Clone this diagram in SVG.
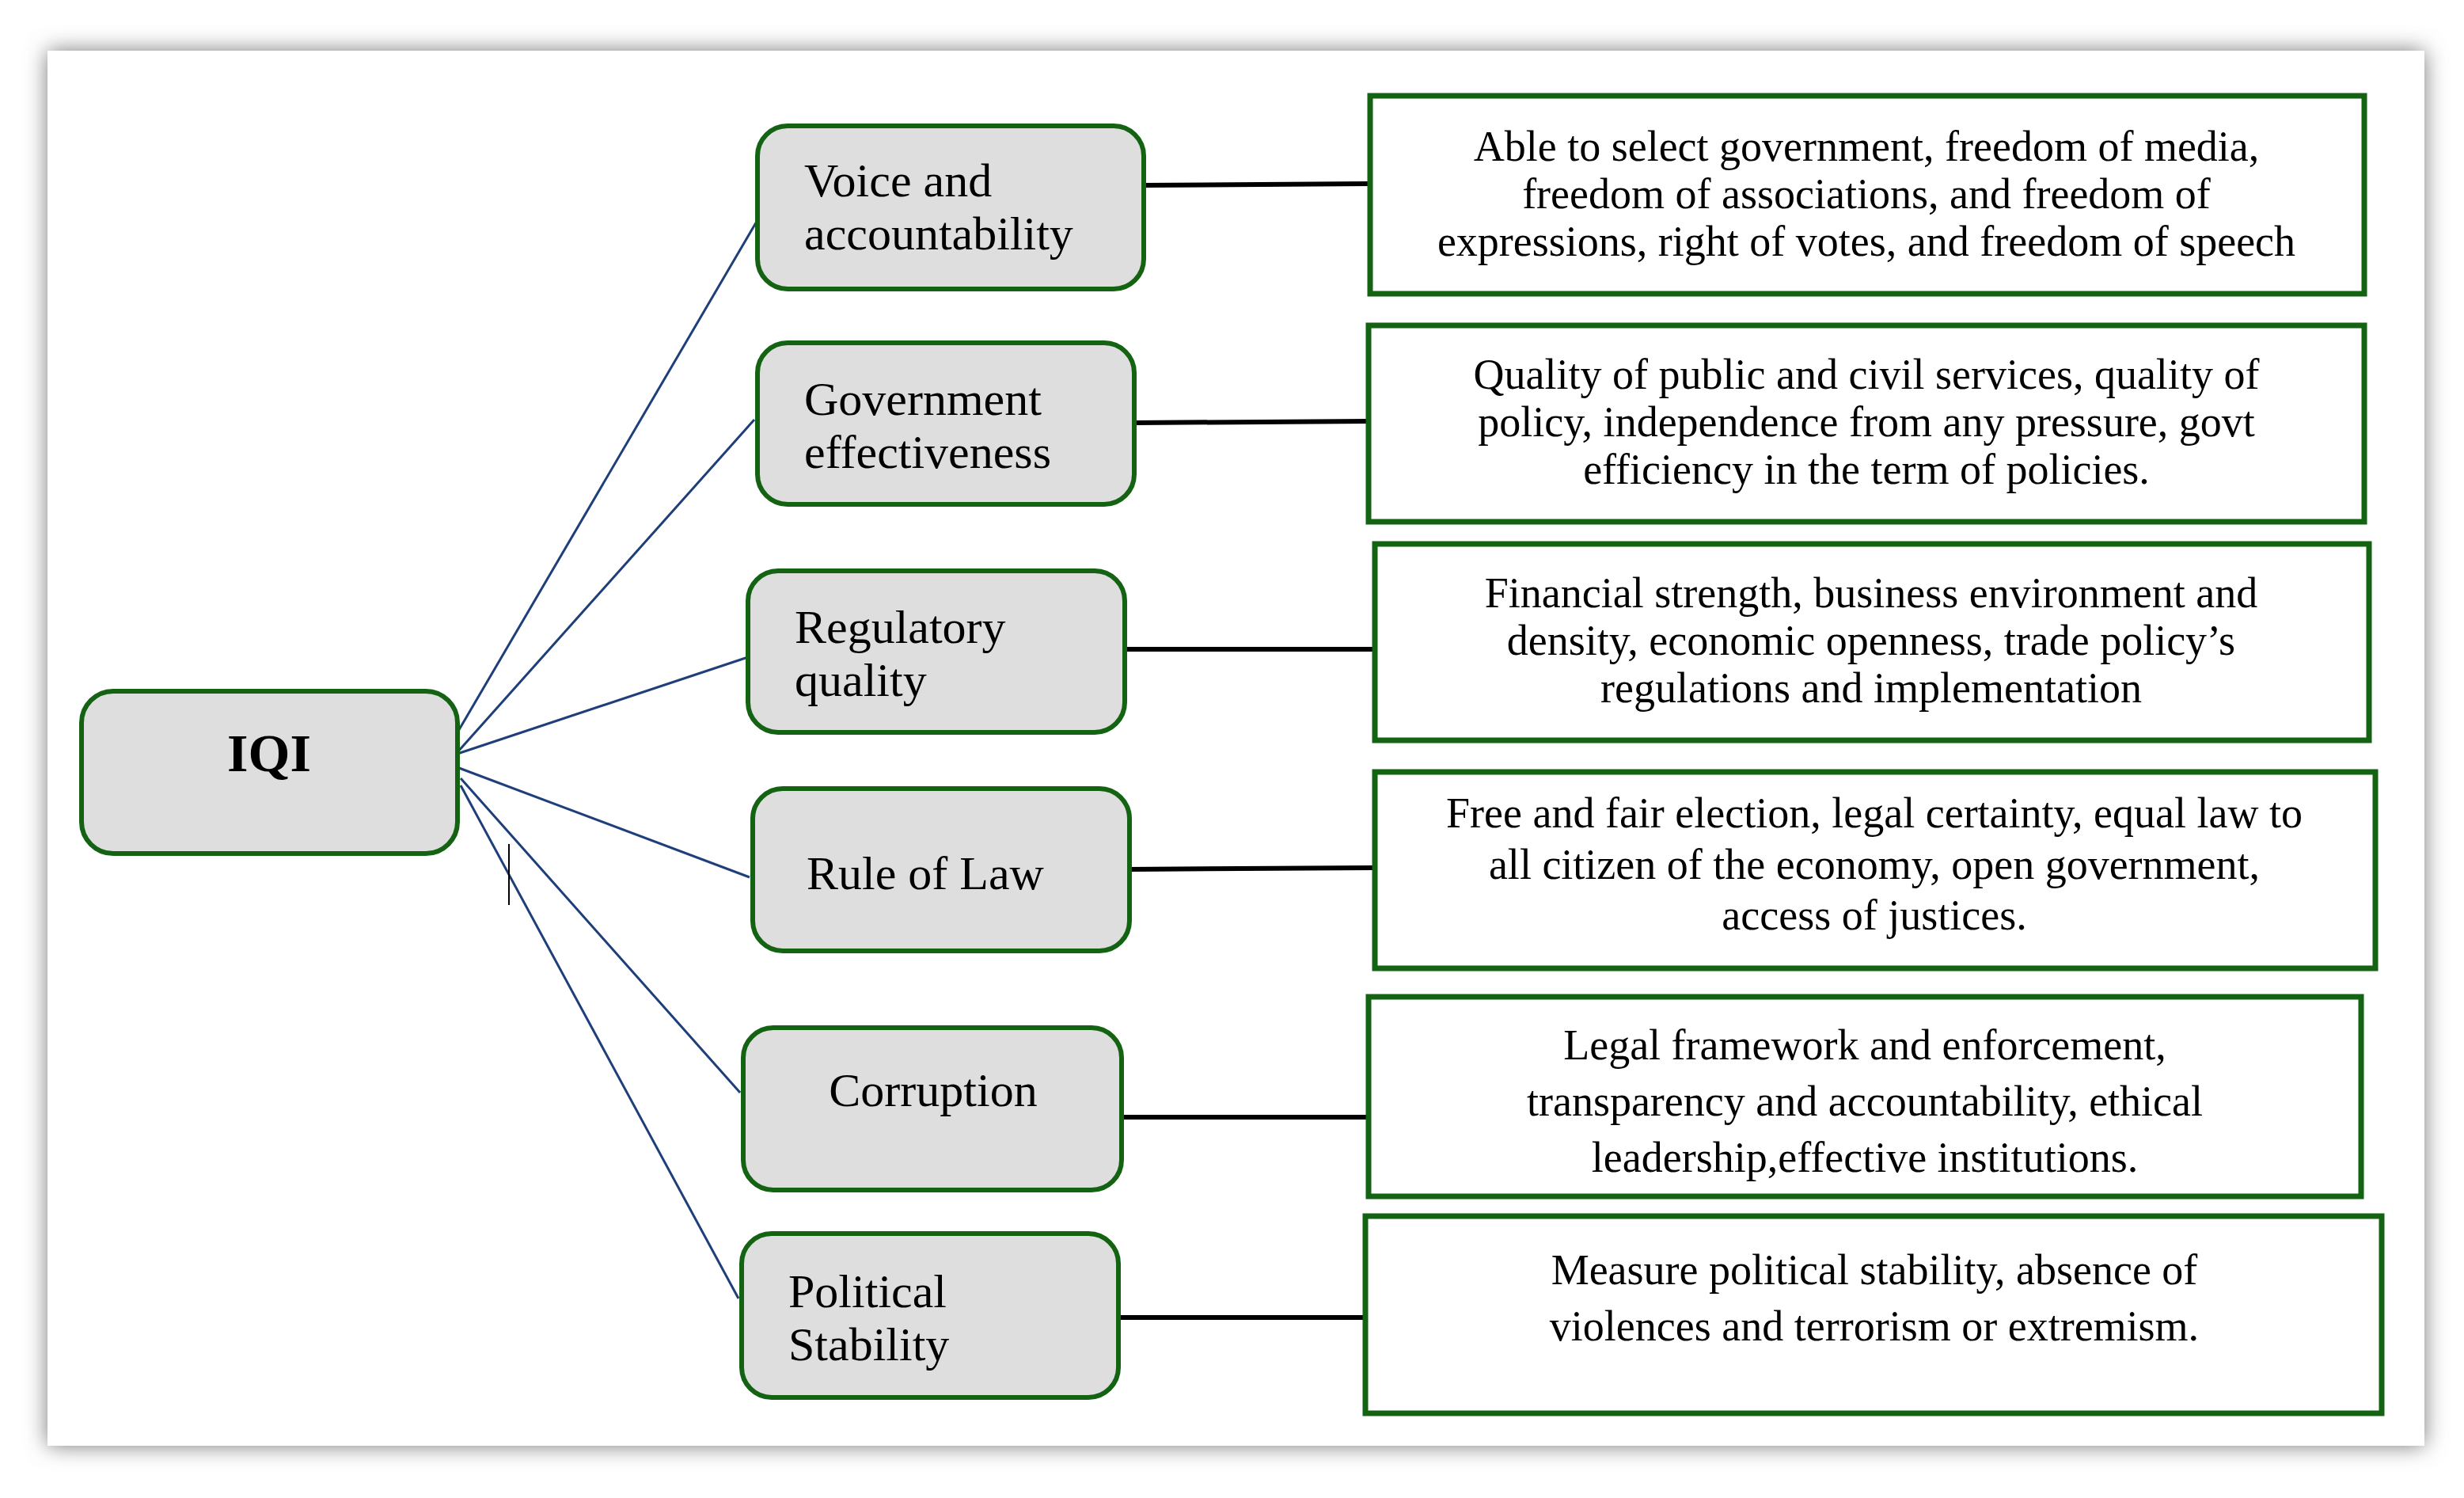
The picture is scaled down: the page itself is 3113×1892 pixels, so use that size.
<svg xmlns="http://www.w3.org/2000/svg" width="3113" height="1892" viewBox="0 0 3113 1892">
<defs>
<filter id="sh" x="-5%" y="-5%" width="110%" height="110%"><feGaussianBlur stdDeviation="14"/></filter>
<style>
.n{fill:#dedede;stroke:#136313;stroke-width:6}
.d{fill:#fff;stroke:#136313;stroke-width:7}
.t{font-family:"Liberation Serif","Times New Roman",serif;fill:#000}
.l{font-size:60px}
.r{font-size:54px;text-anchor:middle}
.b{stroke:#1f3f7a;stroke-width:3;fill:none}
.k{stroke:#000;stroke-width:6;fill:none}
</style>
</defs>
<rect width="3113" height="1892" fill="#fff"/>
<rect x="60" y="64" width="3003" height="1762" fill="#777" filter="url(#sh)"/>
<rect x="60" y="64" width="3003" height="1762" fill="#fff"/>
<g id="connectors">
<path class="b" d="M578 925L957 278M578 950L953 530M578 952L945 830M580 970L947 1108M582 983L935 1380M582 992L933 1640"/>
<path stroke="#000" stroke-width="2" d="M643 1066V1143"/>
<path class="k" d="M1445 234L1731 232M1433 534L1729 532M1421 820L1737 820M1427 1098L1737 1096M1417 1411L1729 1411M1413 1664L1725 1664"/>
</g>
<g id="iqi"><rect class="n" x="103" y="873" width="475" height="205" rx="40"/><text class="t" x="340" y="974" font-size="68" font-weight="bold" text-anchor="middle">IQI</text></g>
<g id="voice"><rect class="n" x="957" y="159" width="488" height="206" rx="38"/><text class="t l" x="1016" y="248">Voice and</text><text class="t l" x="1016" y="315">accountability</text></g>
<g id="gov"><rect class="n" x="957" y="433" width="476" height="204" rx="38"/><text class="t l" x="1016" y="524">Government</text><text class="t l" x="1016" y="591">effectiveness</text></g>
<g id="reg"><rect class="n" x="945" y="721" width="476" height="204" rx="38"/><text class="t l" x="1004" y="812">Regulatory</text><text class="t l" x="1004" y="879">quality</text></g>
<g id="rule"><rect class="n" x="951" y="996" width="476" height="205" rx="38"/><text class="t l" x="1169" y="1123" text-anchor="middle">Rule of Law</text></g>
<g id="corr"><rect class="n" x="939" y="1298" width="478" height="205" rx="38"/><text class="t l" x="1179" y="1397" text-anchor="middle">Corruption</text></g>
<g id="pol"><rect class="n" x="937" y="1558" width="476" height="207" rx="38"/><text class="t l" x="996" y="1651">Political</text><text class="t l" x="996" y="1718">Stability</text></g>
<g id="d1"><rect class="d" x="1731" y="121" width="1256" height="250"/><text class="t r" x="2358" y="203">Able to select government, freedom of media,</text><text class="t r" x="2358" y="263">freedom of associations, and freedom of</text><text class="t r" x="2358" y="323">expressions, right of votes, and freedom of speech</text></g>
<g id="d2"><rect class="d" x="1729" y="411" width="1258" height="248"/><text class="t r" x="2358" y="491">Quality of public and civil services, quality of</text><text class="t r" x="2358" y="551">policy, independence from any pressure, govt</text><text class="t r" x="2358" y="611">efficiency in the term of policies.</text></g>
<g id="d3"><rect class="d" x="1737" y="687" width="1256" height="248"/><text class="t r" x="2364" y="767">Financial strength, business environment and</text><text class="t r" x="2364" y="827">density, economic openness, trade policy’s</text><text class="t r" x="2364" y="887">regulations and implementation</text></g>
<g id="d4"><rect class="d" x="1737" y="975" width="1264" height="248"/><text class="t r" x="2368" y="1045" font-size="56">Free and fair election, legal certainty, equal law to</text><text class="t r" x="2368" y="1110" font-size="56">all citizen of the economy, open government,</text><text class="t r" x="2368" y="1174" font-size="56">access of justices.</text></g>
<g id="d5"><rect class="d" x="1729" y="1259" width="1254" height="252"/><text class="t r" x="2356" y="1338" font-size="63">Legal framework and enforcement,</text><text class="t r" x="2356" y="1409" font-size="63">transparency and accountability, ethical</text><text class="t r" x="2356" y="1480" font-size="63">leadership,effective institutions.</text></g>
<g id="d6"><rect class="d" x="1725" y="1536" width="1284" height="249"/><text class="t r" x="2368" y="1622" font-size="63">Measure political stability, absence of</text><text class="t r" x="2368" y="1693" font-size="63">violences and terrorism or extremism.</text></g>
</svg>
